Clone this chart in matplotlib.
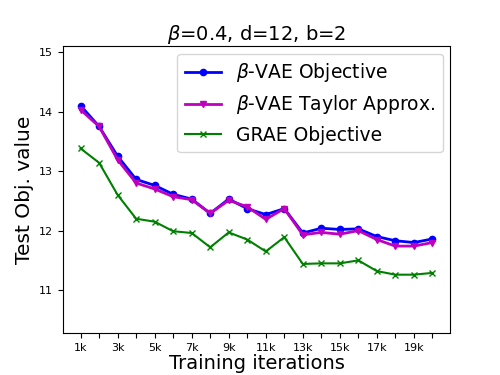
import matplotlib
matplotlib.use("Agg")
import matplotlib.pyplot as plt

iters = list(range(1, 21))
tick_labels = ["%dk" % i if i % 2 == 1 else "" for i in iters]

vae_obj = [14.10, 13.75, 13.25, 12.86, 12.76, 12.61, 12.53, 12.29, 12.53, 12.37,
           12.27, 12.37, 11.96, 12.04, 12.02, 12.03, 11.90, 11.83, 11.80, 11.86]
vae_taylor = [14.03, 13.75, 13.19, 12.80, 12.70, 12.57, 12.52, 12.29, 12.51, 12.40,
              12.19, 12.37, 11.93, 11.97, 11.94, 12.00, 11.85, 11.74, 11.74, 11.80]
grae_obj = [13.38, 13.14, 12.60, 12.20, 12.15, 11.99, 11.96, 11.72, 11.97, 11.85,
            11.65, 11.89, 11.44, 11.45, 11.45, 11.50, 11.32, 11.26, 11.26, 11.29]

fig, ax = plt.subplots(figsize=(5, 3.75), dpi=100)

ax.plot(iters, vae_obj, color="blue", marker="o", markersize=4.5, linewidth=2,
        label=r"$\beta$-VAE Objective")
ax.plot(iters, vae_taylor, color="m", marker="v", markersize=4, linewidth=2,
        label=r"$\beta$-VAE Taylor Approx.")
ax.plot(iters, grae_obj, color="green", marker="x", markersize=4, linewidth=1.5,
        label="GRAE Objective")

ax.set_xticks(iters)
ax.set_xticklabels(tick_labels, fontsize=8)
ax.set_yticks([11, 12, 13, 14, 15])
ax.tick_params(axis="y", labelsize=8)
ax.set_ylim(10.28, 15.1)

ax.set_title(r"$\beta$=0.4, d=12, b=2", fontsize=14, pad=3)
ax.set_xlabel("Training iterations", fontsize=14, labelpad=1)
ax.set_ylabel("Test Obj. value", fontsize=14.5)
ax.legend(loc="upper right", fontsize=13.5, handlelength=1.9,
          borderaxespad=0.4, labelspacing=0.5)

fig.subplots_adjust(left=0.126, right=0.9, top=0.877, bottom=0.112)
fig.savefig("out.png")
